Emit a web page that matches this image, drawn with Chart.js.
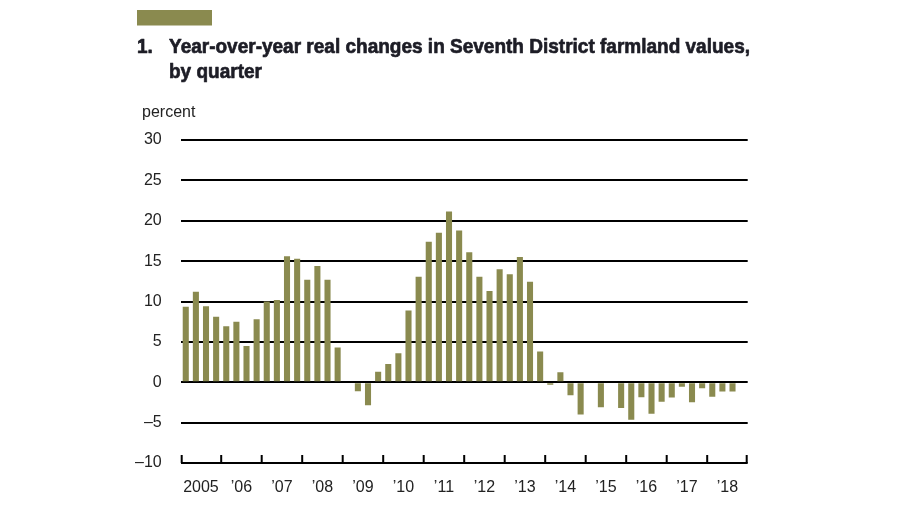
<!DOCTYPE html>
<html>
<head>
<meta charset="utf-8">
<script src="https://cdn.jsdelivr.net/npm/chart.js@4.4.1/dist/chart.umd.min.js"></script>
<style>
  html, body { margin: 0; padding: 0; background: #ffffff; }
  #wrap { width: 900px; height: 506px; position: relative; }
</style>
</head>
<body>
<div id="wrap"><canvas id="c"></canvas></div>
<script>
// ---- Data ----
const quarters = [];
const yearStarts = [2005,2006,2007,2008,2009,2010,2011,2012,2013,2014,2015,2016,2017,2018];
yearStarts.forEach(y => { for (let q = 1; q <= 4; q++) quarters.push(y + ' Q' + q); });

const yearLabels = ['2005', '\u201906', '\u201907', '\u201908', '\u201909', '\u201910', '\u201911',
                    '\u201912', '\u201913', '\u201914', '\u201915', '\u201916', '\u201917', '\u201918'];

const realChange = [
  9.35, 11.2, 9.4, 8.1,     // 2005
  6.95, 7.5, 4.5, 7.8,      // 2006
  10.0, 10.2, 15.6, 15.3,   // 2007
  12.7, 14.4, 12.7, 4.3,    // 2008
  0, -1.1, -2.85, 1.3,      // 2009
  2.27, 3.6, 8.9, 13.05,    // 2010
  17.4, 18.5, 21.15, 18.8,  // 2011
  16.1, 13.05, 11.3, 13.98, // 2012
  13.36, 15.5, 12.45, 3.8,  // 2013
  -0.3, 1.25, -1.6, -4.0,   // 2014
  0, -3.1, 0, -3.2,         // 2015
  -4.65, -1.85, -3.9, -2.4, // 2016
  -1.9, -0.57, -2.47, -0.75,// 2017
  -1.8, -1.15, -1.15, null  // 2018
];

const yTicks = [-10, -5, 0, 5, 10, 15, 20, 25, 30];

const titleNumber = '1.';
const titleLine1 = 'Year-over-year real changes in Seventh District farmland values,';
const titleLine2 = 'by quarter';
const unitLabel = 'percent';

// ---- Styles ----
const OLIVE = '#8a8a4f';
const INK = '#1d1d26';
const TITLE_FONT = '"Liberation Sans", Arial, Helvetica, sans-serif';
const BODY_FONT = '"Liberation Sans", Arial, Helvetica, sans-serif';

const decorPlugin = {
  id: 'decor',
  afterDraw(chart) {
    const ctx = chart.ctx;
    ctx.save();
    // olive tag
    ctx.fillStyle = OLIVE;
    ctx.fillRect(137, 10, 75, 15.5);
    // title
    ctx.fillStyle = INK;
    ctx.strokeStyle = INK;
    ctx.lineWidth = 0.7;
    ctx.lineJoin = 'round';
    ctx.textBaseline = 'alphabetic';
    ctx.textAlign = 'left';
    ctx.font = 'bold 21px ' + TITLE_FONT;
    const w1 = ctx.measureText(titleLine1).width;
    const sx = 581 / w1;
    ctx.save();
    ctx.translate(137, 0);
    ctx.scale(sx, 1);
    ctx.fillText(titleNumber, 0, 53);
    ctx.strokeText(titleNumber, 0, 53);
    ctx.restore();
    ctx.save();
    ctx.translate(169, 0);
    ctx.scale(sx, 1);
    ctx.fillText(titleLine1, 0, 53);
    ctx.strokeText(titleLine1, 0, 53);
    ctx.fillText(titleLine2, 0, 78);
    ctx.strokeText(titleLine2, 0, 78);
    ctx.restore();
    // unit label
    ctx.font = '16px ' + BODY_FONT;
    ctx.fillStyle = '#222';
    ctx.fillText(unitLabel, 142, 117);
    // year boundary ticks on the baseline
    const xs = chart.scales.years;
    const ys = chart.scales.y;
    const base = ys.getPixelForValue(-10);
    ctx.strokeStyle = '#000';
    ctx.lineWidth = 2;
    ctx.beginPath();
    for (let i = 0; i <= yearLabels.length; i++) {
      let x = xs.left + xs.width * i / yearLabels.length;
      if (i === 0) x += 1;
      if (i === yearLabels.length) x -= 1;
      ctx.moveTo(x, base);
      ctx.lineTo(x, base - 8);
    }
    ctx.stroke();
    ctx.restore();
  }
};

new Chart(document.getElementById('c'), {
  type: 'bar',
  data: {
    labels: quarters,
    datasets: [{
      data: realChange,
      backgroundColor: OLIVE,
      borderWidth: 0,
      barPercentage: 0.6,
      categoryPercentage: 1.0,
      xAxisID: 'x',
      yAxisID: 'y'
    }]
  },
  options: {
    responsive: true,
    maintainAspectRatio: false,
    animation: false,
    devicePixelRatio: 1,
    layout: { padding: { top: 140, right: 152.3, left: 0, bottom: 0 } },
    plugins: { legend: { display: false }, tooltip: { enabled: false }, title: { display: false } },
    scales: {
      x: {
        type: 'category',
        display: false,
        offset: true
      },
      years: {
        type: 'category',
        labels: yearLabels,
        position: 'bottom',
        offset: true,
        grid: { display: false, drawTicks: false },
        border: { display: false },
        ticks: {
          color: '#222',
          font: { family: BODY_FONT, size: 16 },
          padding: 15,
          maxRotation: 0,
          autoSkip: false
        },
        afterFit(scale) { scale.height = 43; }
      },
      y: {
        min: -10,
        max: 30,
        z: 1,
        afterBuildTicks(scale) { scale.ticks = yTicks.map(v => ({ value: v })); },
        grid: { color: '#000', lineWidth: 2, drawTicks: false },
        border: { display: false },
        ticks: {
          color: '#222',
          font: { family: BODY_FONT, size: 16 },
          padding: 19,
          callback: v => (v < 0 ? '\u2013' + Math.abs(v) : String(v))
        },
        afterFit(scale) { scale.width = 180.7; }
      }
    }
  },
  plugins: [decorPlugin]
});
</script>
</body>
</html>
